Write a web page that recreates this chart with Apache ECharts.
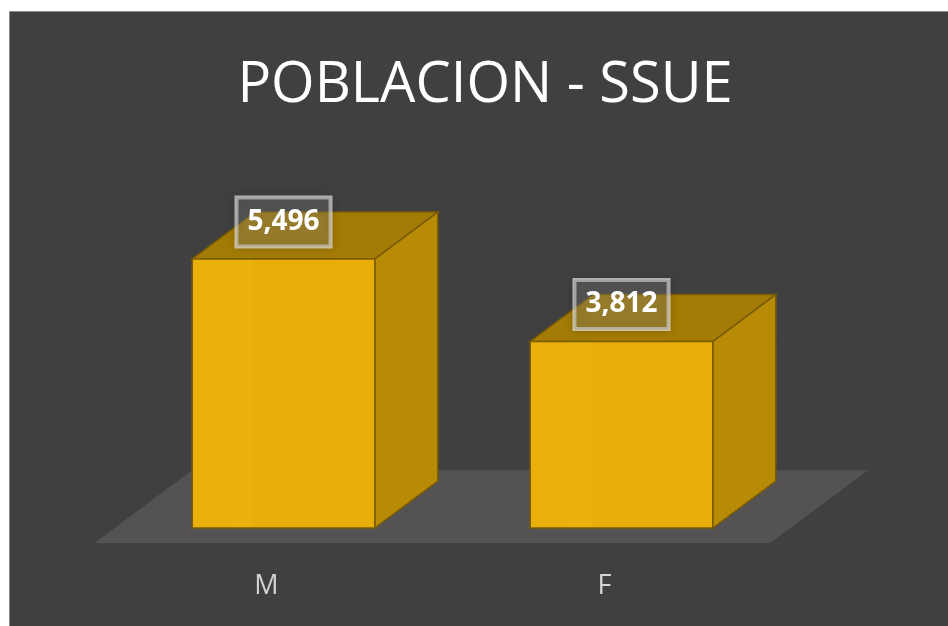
<!DOCTYPE html>
<html>
<head>
<meta charset="utf-8">
<script src="https://cdn.jsdelivr.net/npm/echarts@6/dist/echarts.min.js"></script>
<style>
html,body{margin:0;padding:0;background:#fff;}
#chart{width:948px;height:626px;}
</style>
</head>
<body>
<div id="chart"></div>
<script>
// ---- data ----
const categories = ['M', 'F'];
const values = [5496, 3812];
const titleText = 'POBLACION - SSUE';

// ---- 3D projection settings (style) ----
const DEPTH = [63, -47];       // receding vector of bar depth
const BAR_RATIO = 0.54;        // bar width / category band
const FLOOR_FRONT = -0.32;     // floor front relative to bar front (in depth units)
const FLOOR_BACK = 1.23;

const chart = echarts.init(document.getElementById('chart'), null, {renderer: 'canvas'});

function fmt(v){ return v.toLocaleString('en-US'); }

const option = {
  backgroundColor: '#ffffff',
  animation: false,
  title: {
    text: titleText,
    left: 480,
    textAlign: 'center',
    top: 53,
    textStyle: {color: '#ffffff', fontSize: 56, fontWeight: 'normal', fontFamily: 'Open Sans'}
  },
  graphic: [{
    type: 'rect', z: -10, silent: true,
    shape: {x: 9.5, y: 11.5, width: 948, height: 626},
    style: {fill: '#404040', stroke: '#8a8a8a', lineWidth: 1}
  }],
  grid: {left: 114.5, width: 676, top: 234.3, bottom: 98},
  xAxis: {
    type: 'category', data: categories,
    axisLine: {show: false}, axisTick: {show: false}, splitLine: {show: false},
    axisLabel: {color: '#d4d4d4', fontSize: 27, fontFamily: 'Open Sans', margin: 45, padding: [0, 34, 0, 0]}
  },
  yAxis: {type: 'value', min: 0, max: 6000, show: false, splitLine: {show: false}},
  series: [
    {
      type: 'custom', z: 1, silent: true,
      data: [[0]],
      renderItem: function (params, api) {
        const cs = params.coordSys;
        const y0 = api.coord([0, 0])[1];
        const l = cs.x, r = cs.x + cs.width;
        const f = FLOOR_FRONT, b = FLOOR_BACK;
        const pts = [
          [l + DEPTH[0]*f, y0 + DEPTH[1]*f],
          [r + DEPTH[0]*f, y0 + DEPTH[1]*f],
          [r + DEPTH[0]*b, y0 + DEPTH[1]*b],
          [l + DEPTH[0]*b, y0 + DEPTH[1]*b]
        ];
        return {type: 'polygon', shape: {points: pts}, style: {fill: '#545252'}};
      }
    },
    {
      type: 'custom', z: 2, silent: true,
      data: values.map((v, i) => [i, v]),
      renderItem: function (params, api) {
        const i = api.value(0), v = api.value(1);
        const base = api.coord([i, 0]);
        const top = api.coord([i, v]);
        const bw = api.size([1, 0])[0] * BAR_RATIO;
        const x1 = base[0] - bw/2, x2 = base[0] + bw/2;
        const yb = base[1], yt = top[1];
        const dx = DEPTH[0], dy = DEPTH[1];
        const edge = '#7a5c02';
        return {
          type: 'group',
          children: [
            {type: 'polygon', shape: {points: [[x2, yb], [x2+dx, yb+dy], [x2+dx, yt+dy], [x2, yt]]},
              style: {fill: '#b88b07', stroke: edge, lineWidth: 1.5}},
            {type: 'polygon', shape: {points: [[x1, yt], [x2, yt], [x2+dx, yt+dy], [x1+dx, yt+dy]]},
              style: {fill: '#a47c05', stroke: edge, lineWidth: 1.5}},
            {type: 'rect', shape: {x: x1, y: yt, width: bw, height: yb - yt},
              style: {fill: new echarts.graphic.LinearGradient(0, 0, 1, 0, [
                {offset: 0, color: '#e9af0b'}, {offset: 0.33, color: '#ebb10c'}, {offset: 0.34, color: '#e8ad09'}, {offset: 1, color: '#e8ad09'}]),
                stroke: edge, lineWidth: 1.5}},
            {type: 'text', z2: 10,
              x: base[0], y: yt - 37,
              style: {
                text: fmt(v), x: 0, y: 0, align: 'center', verticalAlign: 'middle',
                fill: '#ffffff', fontSize: 28, fontWeight: 'bold', fontFamily: 'Open Sans',
                backgroundColor: 'rgba(140,140,140,0.28)', borderColor: 'rgba(230,230,230,0.7)',
                borderWidth: 2, padding: [12, 11, 9, 11],
                shadowColor: 'rgba(0,0,0,0.25)', shadowBlur: 10
              }}
          ]
        };
      }
    }
  ]
};
chart.setOption(option);
</script>
</body>
</html>
